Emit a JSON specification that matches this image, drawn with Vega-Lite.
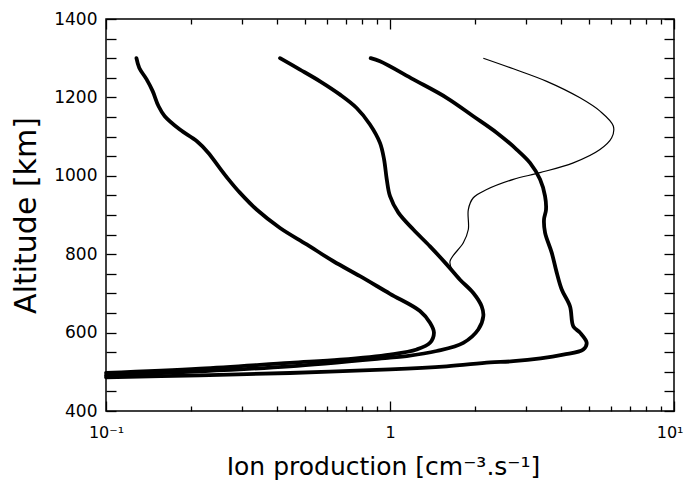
{
  "$schema": "https://vega.github.io/schema/vega-lite/v6.json",
  "width": 568,
  "height": 392,
  "autosize": {"type": "none"},
  "padding": {"left": 106, "top": 19, "right": 12, "bottom": 79},
  "background": "white",
  "config": {
    "view": {"stroke": "black", "strokeWidth": 1.5},
    "axis": {"domain": false, "grid": false, "tickColor": "black", "tickWidth": 1.3, "labelColor": "black", "titleColor": "black", "labelFont": "DejaVu Sans", "titleFont": "DejaVu Sans", "titleFontWeight": "normal", "labelOverlap": false, "labelFlush": false}
  },
  "data": {"values": [
    {"s":"A","i":1,"p":0.128,"alt":1300},{"s":"A","i":2,"p":0.131,"alt":1275},{"s":"A","i":3,"p":0.139,"alt":1246},{"s":"A","i":4,"p":0.146,"alt":1216},{"s":"A","i":5,"p":0.153,"alt":1178},{"s":"A","i":6,"p":0.161,"alt":1152},{"s":"A","i":7,"p":0.182,"alt":1118},{"s":"A","i":8,"p":0.209,"alt":1088},{"s":"A","i":9,"p":0.229,"alt":1059},{"s":"A","i":10,"p":0.249,"alt":1024},{"s":"A","i":11,"p":0.270,"alt":991},{"s":"A","i":12,"p":0.296,"alt":957},{"s":"A","i":13,"p":0.339,"alt":914},{"s":"A","i":14,"p":0.410,"alt":867},{"s":"A","i":15,"p":0.509,"alt":825},{"s":"A","i":16,"p":0.632,"alt":782},{"s":"A","i":17,"p":0.784,"alt":744},{"s":"A","i":18,"p":1.0,"alt":699},{"s":"A","i":20,"p":1.275,"alt":655},{"s":"A","i":21,"p":1.383,"alt":625},{"s":"A","i":22,"p":1.428,"alt":600},{"s":"A","i":23,"p":1.383,"alt":574},{"s":"A","i":24,"p":1.242,"alt":557},{"s":"A","i":25,"p":1.0,"alt":544},{"s":"A","i":26,"p":0.667,"alt":531},{"s":"A","i":27,"p":0.444,"alt":523},{"s":"A","i":28,"p":0.214,"alt":508},{"s":"A","i":29,"p":0.1,"alt":497},
    {"s":"B","i":1,"p":0.410,"alt":1300},{"s":"B","i":2,"p":0.482,"alt":1271},{"s":"B","i":3,"p":0.567,"alt":1241},{"s":"B","i":4,"p":0.667,"alt":1207},{"s":"B","i":5,"p":0.763,"alt":1173},{"s":"B","i":6,"p":0.850,"alt":1131},{"s":"B","i":7,"p":0.922,"alt":1084},{"s":"B","i":8,"p":0.953,"alt":1042},{"s":"B","i":9,"p":0.974,"alt":991},{"s":"B","i":10,"p":1.0,"alt":948},{"s":"B","i":11,"p":1.070,"alt":906},{"s":"B","i":12,"p":1.208,"alt":863},{"s":"B","i":13,"p":1.383,"alt":820},{"s":"B","i":14,"p":1.583,"alt":774},{"s":"B","i":15,"p":1.764,"alt":735},{"s":"B","i":16,"p":1.965,"alt":701},{"s":"B","i":17,"p":2.103,"alt":667},{"s":"B","i":18,"p":2.131,"alt":642},{"s":"B","i":19,"p":2.046,"alt":608},{"s":"B","i":20,"p":1.812,"alt":574},{"s":"B","i":21,"p":1.460,"alt":553},{"s":"B","i":22,"p":1.145,"alt":540},{"s":"B","i":23,"p":1.0,"alt":536},{"s":"B","i":24,"p":0.444,"alt":514},{"s":"B","i":25,"p":0.214,"alt":501},{"s":"B","i":26,"p":0.1,"alt":491},
    {"s":"C","i":1,"p":0.855,"alt":1300},{"s":"C","i":2,"p":0.922,"alt":1292},{"s":"C","i":3,"p":1.208,"alt":1246},{"s":"C","i":4,"p":1.583,"alt":1199},{"s":"C","i":5,"p":1.965,"alt":1152},{"s":"C","i":6,"p":2.375,"alt":1110},{"s":"C","i":7,"p":2.793,"alt":1067},{"s":"C","i":8,"p":3.112,"alt":1033},{"s":"C","i":9,"p":3.375,"alt":991},{"s":"C","i":10,"p":3.515,"alt":948},{"s":"C","i":11,"p":3.543,"alt":914},{"s":"C","i":12,"p":3.486,"alt":889},{"s":"C","i":13,"p":3.515,"alt":855},{"s":"C","i":14,"p":3.710,"alt":804},{"s":"C","i":15,"p":3.864,"alt":753},{"s":"C","i":16,"p":4.024,"alt":710},{"s":"C","i":17,"p":4.303,"alt":667},{"s":"C","i":18,"p":4.420,"alt":616},{"s":"C","i":19,"p":4.667,"alt":600},{"s":"C","i":20,"p":4.927,"alt":574},{"s":"C","i":21,"p":4.793,"alt":557},{"s":"C","i":22,"p":4.076,"alt":544},{"s":"C","i":23,"p":2.718,"alt":527},{"s":"C","i":24,"p":2.250,"alt":524},{"s":"C","i":25,"p":1.583,"alt":514},{"s":"C","i":26,"p":1.0,"alt":506},{"s":"C","i":27,"p":0.444,"alt":497},{"s":"C","i":28,"p":0.214,"alt":491},{"s":"C","i":29,"p":0.1,"alt":486},
    {"s":"D","i":1,"p":2.131,"alt":1300},{"s":"D","i":2,"p":2.718,"alt":1273},{"s":"D","i":3,"p":3.563,"alt":1241},{"s":"D","i":4,"p":4.667,"alt":1199},{"s":"D","i":5,"p":5.488,"alt":1165},{"s":"D","i":6,"p":6.113,"alt":1127},{"s":"D","i":7,"p":6.034,"alt":1097},{"s":"D","i":8,"p":5.488,"alt":1067},{"s":"D","i":9,"p":4.420,"alt":1033},{"s":"D","i":10,"p":3.375,"alt":1008},{"s":"D","i":11,"p":2.718,"alt":991},{"s":"D","i":12,"p":2.190,"alt":965},{"s":"D","i":13,"p":1.965,"alt":944},{"s":"D","i":14,"p":1.887,"alt":914},{"s":"D","i":15,"p":1.887,"alt":863},{"s":"D","i":16,"p":1.812,"alt":829},{"s":"D","i":17,"p":1.627,"alt":782},{"s":"D","i":18,"p":1.66,"alt":757}
  ]},
  "layer": [
    {
      "transform": [{"filter": "datum.s === 'A'"}],
      "mark": {"type": "line", "color": "black", "strokeWidth": 3.8, "strokeJoin": "round", "strokeCap": "round", "interpolate": "catmull-rom"},
      "encoding": {
        "x": {"field": "p", "type": "quantitative", "scale": {"type": "log", "domain": [0.1, 10], "nice": false},
              "axis": {"orient": "bottom", "values": [0.1, 1, 10], "tickSize": -10, "labelPadding": 23, "labelFontSize": 16,
                       "labelExpr": "datum.value < 0.5 ? '10⁻¹' : (datum.value < 5 ? '1' : '10¹')",
                       "labelAlign": {"condition": {"test": "datum.value > 5", "value": "right"}, "value": "center"},
                       "labelOffset": {"condition": {"test": "datum.value > 5", "value": 9}, "value": 0},
                       "title": "Ion production [cm⁻³.s⁻¹]", "titleFontSize": 25, "titleX": 277, "titleY": 63, "titleBaseline": "alphabetic", "titleAlign": "center"}},
        "y": {"field": "alt", "type": "quantitative", "scale": {"domain": [400, 1400], "nice": false},
              "axis": {"orient": "left", "values": [400,450,500,550,600,650,700,750,800,850,900,950,1000,1050,1100,1150,1200,1250,1300,1350,1400], "tickSize": -10, "labelPadding": 19, "labelFontSize": 17, "format": "d",
                       "labelExpr": "datum.value % 200 === 0 ? datum.label : ''",
                       "title": "Altitude [km]", "titleFontSize": 30, "titleX": -80, "titleBaseline": "middle", "titleAlign": "center"}},
        "order": {"field": "i", "type": "quantitative"}
      }
    },
    {
      "transform": [{"filter": "datum.s === 'B'"}],
      "mark": {"type": "line", "color": "black", "strokeWidth": 3.8, "strokeJoin": "round", "strokeCap": "round", "interpolate": "catmull-rom"},
      "encoding": {
        "x": {"field": "p", "type": "quantitative", "scale": {"type": "log", "domain": [0.1, 10], "nice": false},
              "axis": {"orient": "bottom", "values": [0.2,0.3,0.4,0.5,0.6,0.7,0.8,0.9,2,3,4,5,6,7,8,9], "tickSize": -5, "labels": false, "title": null}},
        "y": {"field": "alt", "type": "quantitative", "scale": {"domain": [400, 1400], "nice": false},
              "axis": {"orient": "right", "values": [400,450,500,550,600,650,700,750,800,850,900,950,1000,1050,1100,1150,1200,1250,1300,1350,1400], "tickSize": -10, "labels": false, "title": null}},
        "order": {"field": "i", "type": "quantitative"}
      }
    },
    {
      "transform": [{"filter": "datum.s === 'C'"}],
      "mark": {"type": "line", "color": "black", "strokeWidth": 3.8, "strokeJoin": "round", "strokeCap": "round", "interpolate": "catmull-rom"},
      "encoding": {
        "x": {"field": "p", "type": "quantitative", "scale": {"type": "log", "domain": [0.1, 10], "nice": false},
              "axis": {"orient": "top", "values": [0.1, 1, 10], "tickSize": -10, "labels": false, "title": null}},
        "y": {"field": "alt", "type": "quantitative", "scale": {"domain": [400, 1400], "nice": false}, "axis": null},
        "order": {"field": "i", "type": "quantitative"}
      }
    },
    {
      "transform": [{"filter": "datum.s === 'D'"}],
      "mark": {"type": "line", "color": "black", "strokeWidth": 1.2, "strokeJoin": "round", "interpolate": "catmull-rom"},
      "encoding": {
        "x": {"field": "p", "type": "quantitative", "scale": {"type": "log", "domain": [0.1, 10], "nice": false},
              "axis": {"orient": "top", "values": [0.2,0.3,0.4,0.5,0.6,0.7,0.8,0.9,2,3,4,5,6,7,8,9], "tickSize": -5, "labels": false, "title": null}},
        "y": {"field": "alt", "type": "quantitative", "scale": {"domain": [400, 1400], "nice": false}, "axis": null},
        "order": {"field": "i", "type": "quantitative"}
      }
    }
  ],
  "resolve": {"axis": {"x": "independent", "y": "independent"}}
}
